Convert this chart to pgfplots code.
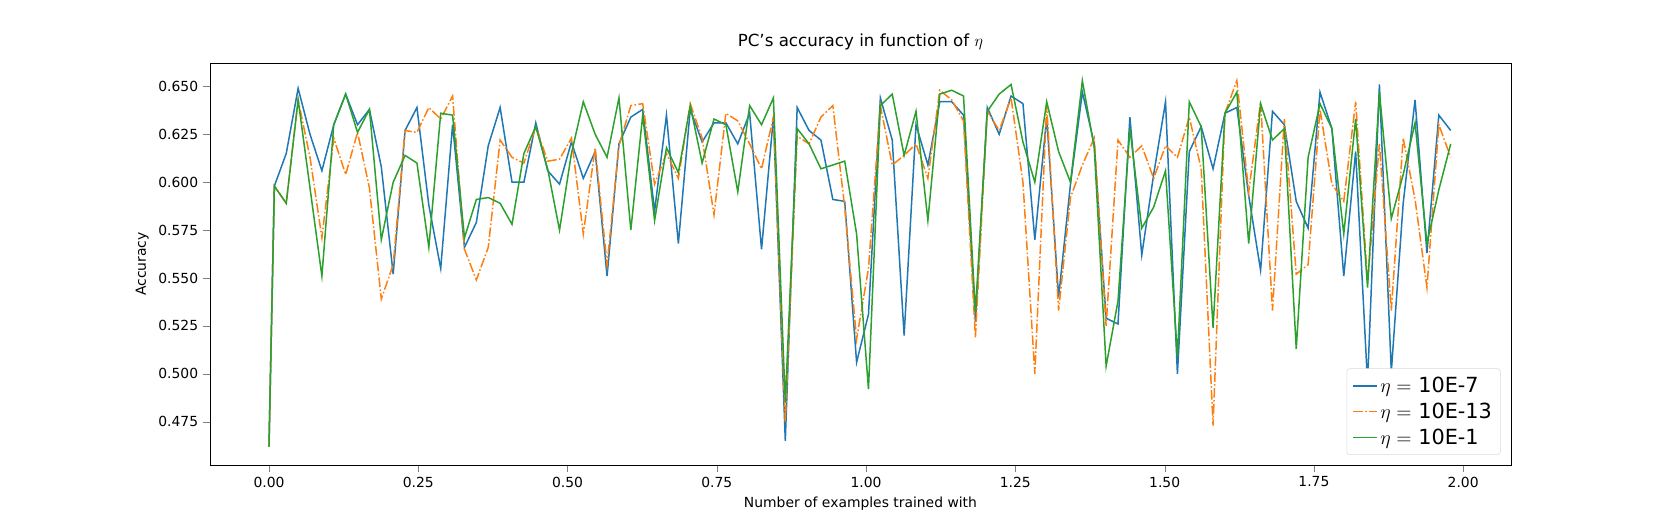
\documentclass[border=0pt]{standalone}
\usepackage{pgfplots}
\usepackage{pgfplotstable}
\pgfplotsset{compat=1.18}
\usepackage{fontspec}
\setmainfont{DejaVu Sans}
\definecolor{c0}{HTML}{1F77B4}
\definecolor{c1}{HTML}{FF7F0E}
\definecolor{c2}{HTML}{2CA02C}
\pgfplotstableread{
k b o g
0 0.462 0.462 0.462
1 0.598 0.598 0.598
2 0.615 0.589 0.589
3 0.649 0.643 0.643
4 0.625 0.613 0.597
5 0.606 0.571 0.551
6 0.630 0.623 0.630
7 0.646 0.604 0.646
8 0.630 0.626 0.626
9 0.638 0.597 0.638
10 0.608 0.539 0.570
11 0.552 0.557 0.600
12 0.627 0.627 0.614
13 0.639 0.626 0.610
14 0.588 0.639 0.566
15 0.555 0.633 0.636
16 0.630 0.645 0.635
17 0.566 0.565 0.571
18 0.579 0.549 0.591
19 0.619 0.566 0.592
20 0.639 0.622 0.589
21 0.600 0.613 0.578
22 0.600 0.610 0.615
23 0.631 0.629 0.629
24 0.606 0.611 0.607
25 0.599 0.612 0.575
26 0.621 0.623 0.615
27 0.602 0.573 0.642
28 0.616 0.618 0.625
29 0.551 0.557 0.613
30 0.620 0.619 0.644
31 0.634 0.640 0.575
32 0.638 0.641 0.635
33 0.585 0.599 0.580
34 0.635 0.615 0.618
35 0.568 0.602 0.605
36 0.638 0.641 0.640
37 0.621 0.623 0.610
38 0.631 0.583 0.633
39 0.631 0.636 0.630
40 0.620 0.632 0.595
41 0.636 0.620 0.640
42 0.565 0.607 0.630
43 0.634 0.634 0.644
44 0.465 0.475 0.485
45 0.639 0.624 0.628
46 0.627 0.620 0.620
47 0.622 0.634 0.607
48 0.591 0.640 0.609
49 0.590 0.587 0.611
50 0.506 0.518 0.573
51 0.531 0.555 0.492
52 0.644 0.640 0.640
53 0.622 0.609 0.646
54 0.520 0.614 0.614
55 0.630 0.620 0.637
56 0.609 0.602 0.580
57 0.642 0.648 0.646
58 0.642 0.643 0.648
59 0.635 0.632 0.645
60 0.527 0.519 0.532
61 0.639 0.637 0.637
62 0.625 0.627 0.646
63 0.645 0.644 0.651
64 0.641 0.600 0.621
65 0.570 0.500 0.600
66 0.634 0.640 0.642
67 0.540 0.533 0.616
68 0.599 0.592 0.600
69 0.647 0.609 0.653
70 0.620 0.623 0.618
71 0.529 0.525 0.504
72 0.526 0.622 0.538
73 0.634 0.613 0.628
74 0.562 0.619 0.576
75 0.604 0.602 0.587
76 0.642 0.619 0.606
77 0.500 0.613 0.509
78 0.616 0.634 0.642
79 0.629 0.607 0.629
80 0.607 0.473 0.524
81 0.636 0.636 0.636
82 0.639 0.653 0.647
83 0.593 0.595 0.568
84 0.554 0.642 0.641
85 0.637 0.533 0.622
86 0.630 0.633 0.628
87 0.590 0.552 0.513
88 0.576 0.557 0.613
89 0.647 0.638 0.641
90 0.628 0.599 0.628
91 0.551 0.590 0.573
92 0.616 0.642 0.633
93 0.495 0.548 0.545
94 0.651 0.620 0.647
95 0.501 0.533 0.581
96 0.589 0.623 0.604
97 0.643 0.591 0.631
98 0.563 0.545 0.568
99 0.635 0.630 0.596
100 0.627 0.613 0.620
}\data
\begin{document}
\begin{tikzpicture}
\begin{axis}[
  scale only axis, width=936.7pt, height=289.4pt,
  xmin=-0.0988, xmax=2.080, ymin=0.4524, ymax=0.6622,
  xtick={0,0.25,0.5,0.75,1,1.25,1.5,1.75,2},
  ytick={0.475,0.5,0.525,0.55,0.575,0.6,0.625,0.65},
  xticklabel style={/pgf/number format/.cd,fixed,fixed zerofill,precision=2},
  yticklabel style={/pgf/number format/.cd,fixed,fixed zerofill,precision=3},
  /pgf/number format/assume math mode=true,
  tick align=outside, tick pos=left,
  major tick length=5pt,
  ticklabel style={font=\fontsize{10}{12}\selectfont},
  label style={font=\fontsize{10}{12}\selectfont},
  title style={font=\fontsize{12}{14}\selectfont},
  title={PC's accuracy in function of $\eta$},
  xlabel={Number of examples trained with},
  ylabel={Accuracy},
  legend style={at={(0.992,0.025)}, anchor=south east, font=\fontsize{15}{18}\selectfont,
    draw=black!15, rounded corners=2pt, inner sep=4pt, row sep=2pt},
  legend cell align=left,
  every axis plot/.append style={line width=1.08pt},
]
\addplot[c0, no marks] table[x expr={max(0,\thisrow{k}*0.0199-0.0109)}, y=b]{\data};
\addlegendentry{$\eta=$ 10E-7}
\addplot[c1, no marks, dash pattern=on 6.9pt off 1.7pt on 1.1pt off 1.7pt] table[x expr={max(0,\thisrow{k}*0.0199-0.0109)}, y=o]{\data};
\addlegendentry{$\eta=$ 10E-13}
\addplot[c2, no marks] table[x expr={max(0,\thisrow{k}*0.0199-0.0109)}, y=g]{\data};
\addlegendentry{$\eta=$ 10E-1}
\node[anchor=north east, font=\fontsize{10}{12}\selectfont] at ([yshift=-22pt]rel axis cs:1,0) {1e8};
\end{axis}
\useasboundingbox ([shift={(-151.2pt,-41.8pt)}]current axis.south west) rectangle ([shift={(121pt,45.4pt)}]current axis.north east);
\end{tikzpicture}
\end{document}
